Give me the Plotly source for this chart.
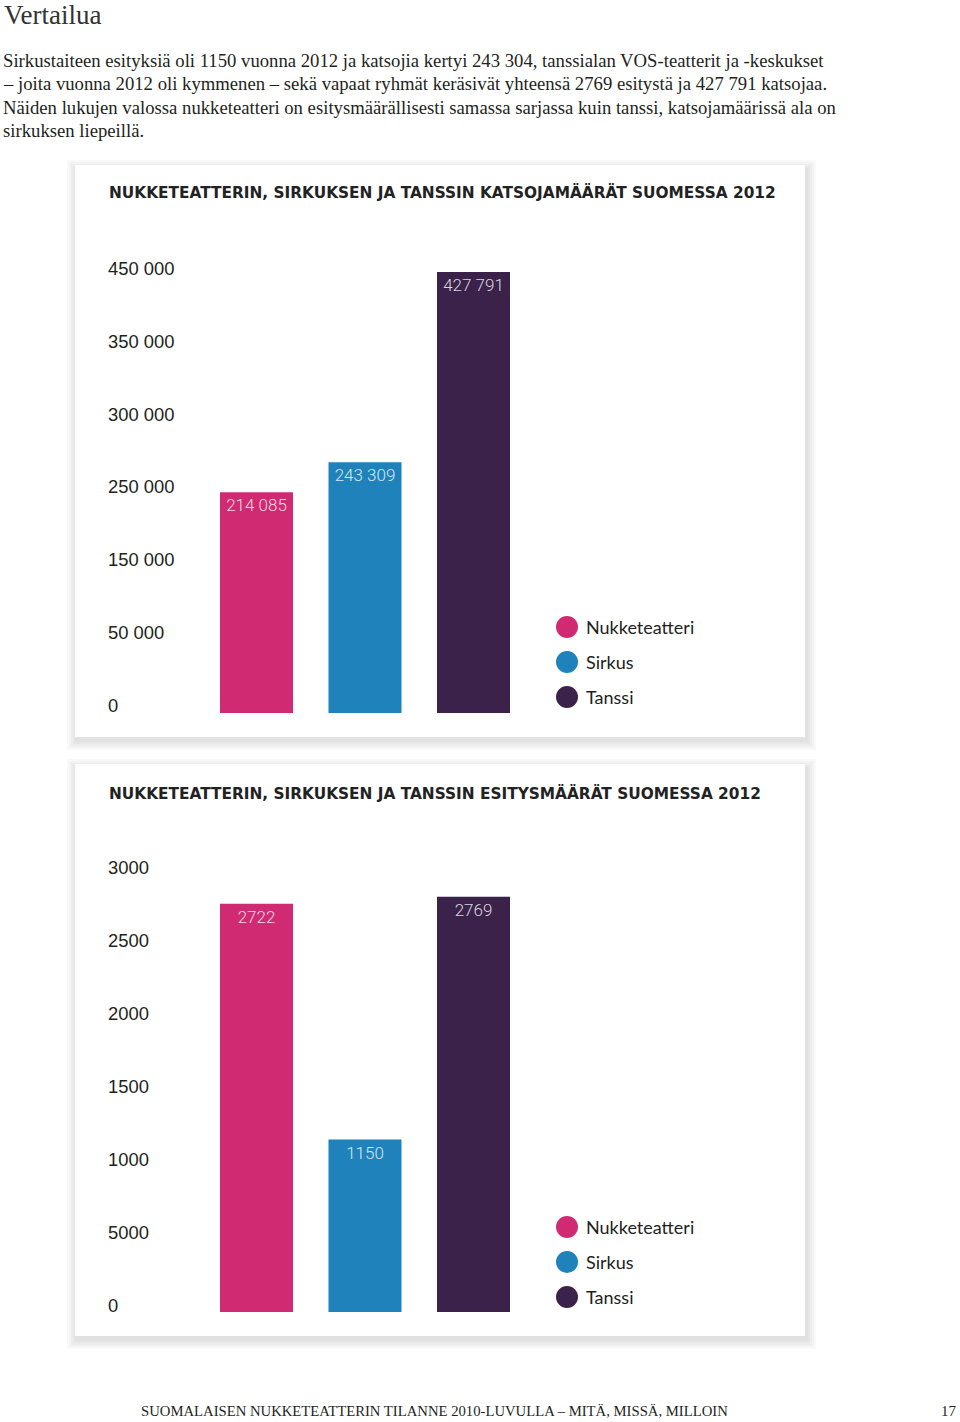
import plotly.graph_objects as go

# ---------------- data ----------------
categories = ["Nukketeatteri", "Sirkus", "Tanssi"]
audience = [214085, 243309, 427791]
performances = [2722, 1150, 2769]
audience_ticks = ["0", "50 000", "150 000", "250 000", "300 000", "350 000", "450 000"]
perf_ticks = ["0", "5000", "1000", "1500", "2000", "2500", "3000"]
colors = ["#D02A72", "#1F82BB", "#3B224A"]

heading = "Vertailua"
paragraph = [
    "Sirkustaiteen esityksiä oli 1150 vuonna 2012 ja katsojia kertyi 243 304, tanssialan VOS-teatterit ja -keskukset",
    "– joita vuonna 2012 oli kymmenen – sekä vapaat ryhmät keräsivät yhteensä 2769 esitystä ja 427 791 katsojaa.",
    "Näiden lukujen valossa nukketeatteri on esitysmäärällisesti samassa sarjassa kuin tanssi, katsojamäärissä ala on",
    "sirkuksen liepeillä.",
]
title1 = "NUKKETEATTERIN, SIRKUKSEN JA TANSSIN KATSOJAMÄÄRÄT SUOMESSA 2012"
title2 = "NUKKETEATTERIN, SIRKUKSEN JA TANSSIN ESITYSMÄÄRÄT SUOMESSA 2012"
footer = "SUOMALAISEN NUKKETEATTERIN TILANNE 2010-LUVULLA – MITÄ, MISSÄ, MILLOIN"
page_no = "17"

# ---------------- layout helpers ----------------
W, H = 960, 1422
def X(px):
    return px / W
def Y(py):
    return 1 - py / H

TEXT = "#231F20"
SERIF = "Liberation Serif, Times New Roman, serif"
SANS = "Liberation Sans, Arial, sans-serif"
GEO = "Lato, Noto Sans, sans-serif"

def fmt_space(v):
    return f"{v:,}".replace(",", " ")

fig = go.Figure()

# chart geometry (pixels)
charts = [
    dict(card=(75, 165, 805, 737), title_y=193, base=713, scale=441 / 427791, rmax=450000,
         tick_step=70800, shift=-7, values=audience, ticks=audience_ticks,
         labels=[fmt_space(v) for v in audience], title=title1, legend_y=627, xa="x", ya="y"),
    dict(card=(75, 764, 805, 1336), title_y=793, base=1312, scale=0.15, rmax=3100,
         tick_step=486.7, shift=-6, values=performances, ticks=perf_ticks,
         labels=[str(v) for v in performances], title=title2, legend_y=1227, xa="x2", ya="y2"),
]

shapes = []
annotations = []

# heading + paragraph
annotations.append(dict(text=heading, x=X(2), y=Y(15), xref="paper", yref="paper",
                        xanchor="left", yanchor="middle", showarrow=False,
                        font=dict(family=SERIF, size=27, color="#333333")))
for i, line in enumerate(paragraph):
    annotations.append(dict(text=line, x=X(1), y=Y(61 + 23 * i), xref="paper", yref="paper",
                            xanchor="left", yanchor="middle", showarrow=False,
                            font=dict(family=SERIF, size=18.7, color=TEXT)))

annotations.append(dict(text=footer, x=X(139), y=Y(1411), xref="paper", yref="paper",
                        xanchor="left", yanchor="middle", showarrow=False,
                        font=dict(family=SERIF, size=14.7, color=TEXT)))
annotations.append(dict(text=page_no, x=X(959), y=Y(1411), xref="paper", yref="paper",
                        xanchor="right", yanchor="middle", showarrow=False,
                        font=dict(family=SERIF, size=15, color=TEXT)))

layout_axes = {}
unit_px = 108.5
x_left, x_right = 103, 800
first_center = 256.5
pad_below = 14  # pixels of axis below the bar base, room for the "0" label

for ci, c in enumerate(charts):
    x0, y0, x1, y1 = c["card"]
    # soft shadow layers (biased down/right)
    for g in [10, 8, 6, 4, 2]:
        shapes.append(dict(type="rect", xref="paper", yref="paper",
                           x0=X(x0 - g + 2), x1=X(x1 + g + 1), y0=Y(y0 - g + 5), y1=Y(y1 + g + 3),
                           line=dict(width=0), fillcolor="rgba(0,0,0,0.022)", layer="below"))
    shapes.append(dict(type="rect", xref="paper", yref="paper",
                       x0=X(x0), x1=X(x1), y0=Y(y0), y1=Y(y1),
                       line=dict(width=0), fillcolor="white", layer="below"))

    annotations.append(dict(text=c["title"], x=X(107), y=Y(c["title_y"]), xref="paper", yref="paper",
                            xanchor="left", yanchor="middle", showarrow=False,
                            font=dict(family="DejaVu Sans, sans-serif", size=15.35, color="#222222", weight="bold")))

    fig.add_trace(go.Bar(
        x=categories, y=c["values"], marker=dict(color=colors, line=dict(width=0)),
        text=c["labels"], textposition="inside", insidetextanchor="end",
        textfont=dict(family="Roboto, Lato, sans-serif", size=17, color="rgba(255,255,255,0.82)", weight=300),
        textangle=0, cliponaxis=False, hoverinfo="skip", showlegend=False,
        xaxis=c["xa"], yaxis=c["ya"],
    ))

    top_px = c["base"] - c["rmax"] * c["scale"]
    xr0 = -(first_center - x_left) / unit_px
    xr1 = xr0 + (x_right - x_left) / unit_px
    suffix = "" if ci == 0 else "2"
    layout_axes["xaxis" + suffix] = dict(
        domain=[X(x_left), X(x_right)], range=[xr0, xr1], anchor="y" + suffix,
        showticklabels=False, showgrid=False, zeroline=False, showline=False, ticks="",
        type="category", fixedrange=True,
    )
    layout_axes["yaxis" + suffix] = dict(
        domain=[Y(c["base"] + pad_below), Y(top_px)],
        range=[-pad_below / c["scale"], c["rmax"]], anchor="x" + suffix,
        tickvals=[k * c["tick_step"] for k in range(len(c["ticks"]))], ticktext=c["ticks"],
        ticklabelposition="inside", ticklabelshift=c["shift"], ticklabelstandoff=2,
        showgrid=False, zeroline=False, showline=False, ticks="",
        tickfont=dict(family=SANS, size=18.4, color=TEXT), fixedrange=True,
    )

    # legend (circles + labels)
    for i, name in enumerate(categories):
        cy = c["legend_y"] + 35 * i
        shapes.append(dict(type="circle", xref="paper", yref="paper",
                           x0=X(556), x1=X(578), y0=Y(cy - 11), y1=Y(cy + 11),
                           fillcolor=colors[i], line=dict(width=0)))
        annotations.append(dict(text=name, x=X(584), y=Y(cy), xref="paper", yref="paper",
                                xanchor="left", yanchor="middle", showarrow=False,
                                font=dict(family=GEO, size=18, color=TEXT)))

fig.update_layout(
    width=W, height=H, margin=dict(l=0, r=0, t=0, b=0),
    paper_bgcolor="white", plot_bgcolor="rgba(0,0,0,0)",
    bargap=1 - 73 / unit_px, showlegend=False,
    shapes=shapes, annotations=annotations, **layout_axes,
)

fig.write_html("out.html", post_script="document.body.style.margin='0';",
               config={"displayModeBar": False, "staticPlot": True})
